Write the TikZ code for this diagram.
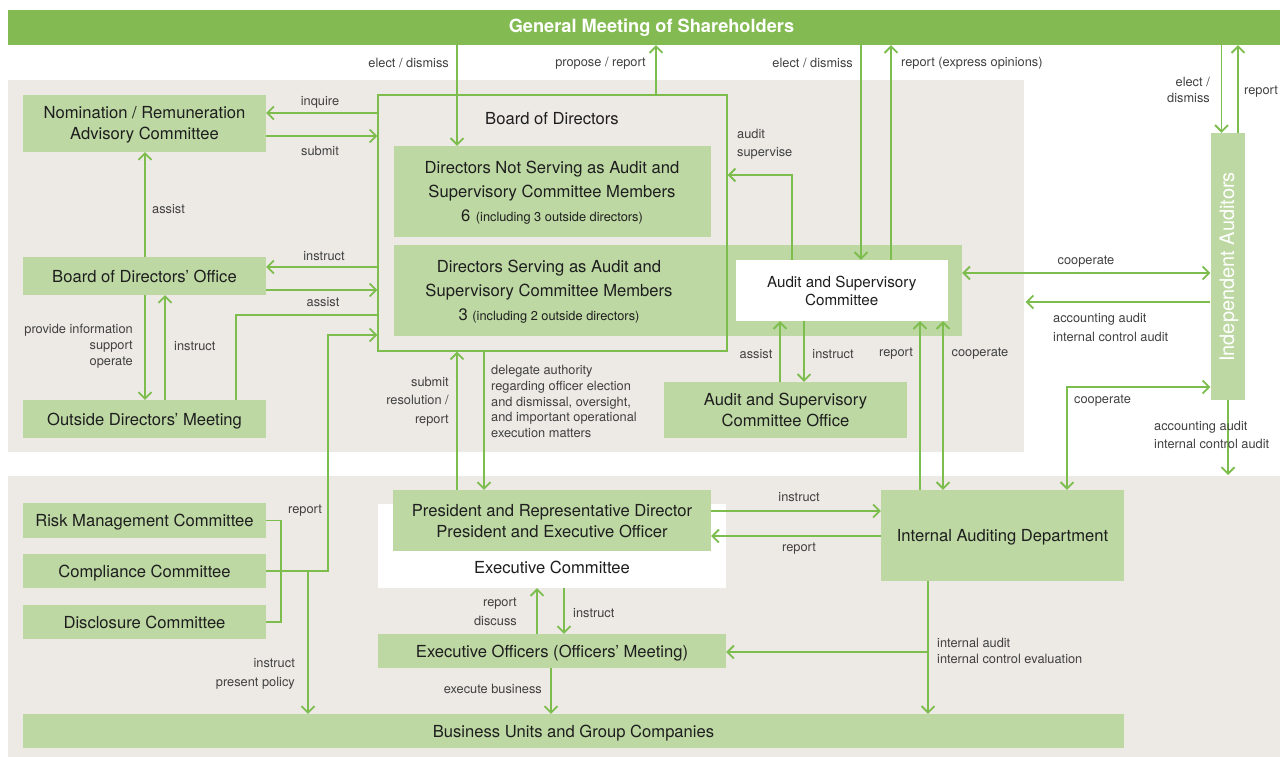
\documentclass[tikz,border=0pt]{standalone}
\usepackage{fontspec}
\setmainfont{TeX Gyre Heros}
\usetikzlibrary{arrows.meta}
\definecolor{gmgreen}{HTML}{83BB52}
\definecolor{boxgreen}{HTML}{BDD8A3}
\definecolor{linegreen}{HTML}{7CBD4E}
\definecolor{panelgray}{HTML}{EDEAE5}
\definecolor{txtc}{HTML}{1E1E1E}
\definecolor{lblc}{HTML}{404040}
\begin{document}
\begin{tikzpicture}[x=1pt,y=-1pt,
  box/.style={fill=boxgreen, inner sep=0pt, text=txtc, align=center, font=\fontsize{16.6}{21}\selectfont},
  wbox/.style={fill=white, inner sep=0pt, text=txtc, align=center, font=\fontsize{16.6}{21}\selectfont},
  th/.style={text height=#1, text depth=0pt},
  btxt/.style={inner sep=0pt, text=txtc, align=center, font=\fontsize{16.6}{24}\selectfont},
  lbl/.style={inner sep=0pt, text=lblc, font=\fontsize{12.8}{16}\selectfont},
  ln/.style={draw=linegreen, line width=1.8pt},
  arr/.style={ln, -{Straight Barb[length=6.5pt,width=13pt]}},
  arr2/.style={ln, {Straight Barb[length=6.5pt,width=13pt]}-{Straight Barb[length=6.5pt,width=13pt]}}
]
\useasboundingbox (0,0) rectangle (1280,757);
% panels
\fill[panelgray] (8,80) rectangle (1024,452);
\fill[panelgray] (8,476) rectangle (1280,757);
% general meeting
\node[fill=gmgreen, inner sep=0pt, minimum width=1272pt, minimum height=35pt] (gm) at (644,27.5) {};
\node[inner sep=0pt, text=white, font=\fontsize{18.2}{18}\selectfont\bfseries] (gmt) at (651.5,27.5) {General Meeting of Shareholders};
% board
\node[box, minimum width=317pt, minimum height=91pt] (dns) at (552.5,191.5) {};
\node[btxt] (dnst) at (552,193) {Directors Not Serving as Audit and\\Supervisory Committee Members\\6\,\,{\fontsize{12.8}{16}\selectfont(including 3 outside directors)}};
\node[box, minimum width=568pt, minimum height=91pt] (dsbox) at (678,290.5) {};
\node[btxt] (ds) at (549,292) {Directors Serving as Audit and\\Supervisory Committee Members\\3 {\fontsize{12.8}{16}\selectfont(including 2 outside directors)}};
\node[wbox, th=30pt, minimum width=211.5pt, minimum height=61pt, font=\fontsize{15.2}{18}\selectfont] (asc) at (841.75,290.5) {Audit and Supervisory\\Committee};
\node[draw=linegreen, line width=1.4pt, inner sep=0pt, minimum width=349pt, minimum height=256pt] (bod) at (552.5,223) {};
\node[btxt] (bodt) at (552,119) {Board of Directors};
\node[box, th=33pt, minimum width=243pt, minimum height=56pt] (ascoff) at (785.5,410) {Audit and Supervisory\\Committee Office};
% left boxes
\node[box, th=33pt, minimum width=243pt, minimum height=57pt] (nom) at (144.5,123.5) {Nomination / Remuneration\\Advisory Committee};
\node[box, th=12pt, minimum width=243pt, minimum height=38pt] (bodo) at (144.5,276) {Board of Directors' Office};
\node[box, th=12pt, minimum width=243pt, minimum height=38pt] (odm) at (144.5,419) {Outside Directors' Meeting};
% independent auditors
\node[fill=boxgreen, inner sep=0pt, minimum width=34.5pt, minimum height=267pt] (ia) at (1227.75,266.5) {};
\node[inner sep=0pt, rotate=90, text=white, font=\fontsize{20}{20}\selectfont] (iat) at (1229,267) {Independent Auditors};
% lower section
\node[box, th=12pt, minimum width=243pt, minimum height=35pt] (risk) at (144.5,520.5) {Risk Management Committee};
\node[box, th=12pt, minimum width=243pt, minimum height=34pt] (comp) at (144.5,571) {Compliance Committee};
\node[box, th=12pt, minimum width=243pt, minimum height=34pt] (disc) at (144.5,622) {Disclosure Committee};
\node[wbox, minimum width=348pt, minimum height=84pt] (excomm) at (552,546) {};
\node[btxt] (exct) at (552,567) {Executive Committee};
\node[box, th=33pt, minimum width=318pt, minimum height=61pt] (pres) at (552,520.5) {President and Representative Director\\President and Executive Officer};
\node[box, th=12pt, minimum width=348pt, minimum height=34pt] (eo) at (552,651) {Executive Officers (Officers' Meeting)};
\node[box, th=12pt, minimum width=243pt, minimum height=91pt] (iad) at (1002.5,535.5) {Internal Auditing Department};
\node[box, th=12pt, minimum width=1101pt, minimum height=34pt] (bu) at (573.5,731) {Business Units and Group Companies};
% helper coordinates
\coordinate (aaend) at (1025.5,302);
\coordinate (iaend) at (1228,475);
\coordinate (iabr) at (928,652);
\coordinate (rp) at (328,335);
% connectors: top
\draw[arr] (457,0 |- gm.south) -- (457,0 |- dns.north);
\draw[arr] (656,0 |- bod.north) -- (656,0 |- gm.south);
\draw[arr] (861,0 |- gm.south) -- (861,0 |- asc.north);
\draw[arr] (891,0 |- asc.north) -- (891,0 |- gm.south);
\draw[arr] (1221.5,0 |- gm.south) -- (1221.5,0 |- ia.north);
\draw[arr] (1238,0 |- ia.north) -- (1238,0 |- gm.south);
% left
\draw[arr] (bod.west |- 0,113) -- (nom.east |- 0,113);
\draw[arr] (nom.east |- 0,136) -- (bod.west |- 0,136);
\draw[arr] (145,0 |- bodo.north) -- (145,0 |- nom.south);
\draw[arr] (bod.west |- 0,267) -- (bodo.east |- 0,267);
\draw[arr] (bodo.east |- 0,290) -- (bod.west |- 0,290);
\draw[arr] (145,0 |- bodo.south) -- (145,0 |- odm.north);
\draw[arr] (165,0 |- odm.north) -- (165,0 |- bodo.south);
\draw[ln] (236,0 |- odm.north) |- (bod.west |- 0,315);
% audit committee
\draw[arr] (792,0 |- asc.north) |- (bod.east |- 0,175);
\draw[arr2] (dsbox.east |- 0,273) -- (ia.west |- 0,273);
\draw[arr] (ia.west |- aaend) -- (aaend);
\draw[arr] (780,0 |- ascoff.north) -- (780,0 |- asc.south);
\draw[arr] (804,0 |- asc.south) -- (804,0 |- ascoff.north);
\draw[arr] (920,0 |- iad.north) -- (920,0 |- asc.south);
\draw[arr2] (943,0 |- iad.north) -- (943,0 |- asc.south);
\draw[arr2] (1067,0 |- iad.north) |- (ia.west |- 0,387);
\draw[arr] (1228,0 |- ia.south) -- (iaend);
% board to executive
\draw[arr] (457,0 |- pres.north) -- (457,0 |- bod.south);
\draw[arr] (484,0 |- bod.south) -- (484,0 |- pres.north);
\draw[arr] (pres.east |- 0,511) -- (iad.west |- 0,511);
\draw[arr] (iad.west |- 0,536) -- (pres.east |- 0,536);
\draw[arr] (537,0 |- eo.north) -- (537,0 |- excomm.south);
\draw[arr] (564,0 |- excomm.south) -- (564,0 |- eo.north);
\draw[arr] (551,0 |- eo.south) -- (551,0 |- bu.north);
\draw[arr] (928,0 |- iad.south) -- (928,0 |- bu.north);
\draw[arr] (iabr) -- (eo.east |- iabr);
% committees
\draw[ln] (risk.east) -- ++(15,0) |- (disc.east);
\draw[arr] (comp.east) -| (rp) -- (bod.west |- rp);
\draw[arr] (308,0 |- comp.east) -- (308,0 |- bu.north);
% labels
\node[lbl, anchor=east] (l1) at (449,63) {elect / dismiss};
\node[lbl, anchor=east] (l2) at (646,63) {propose / report};
\node[lbl, anchor=east] (l3) at (853,63) {elect / dismiss};
\node[lbl, anchor=west] (l4) at (901,63) {report (express opinions)};
\node[lbl, anchor=east, align=right] (l5) at (1210,90) {elect /\\dismiss};
\node[lbl, anchor=west] (l6) at (1244,92) {report};
\node[lbl] (l7) at (320,102) {inquire};
\node[lbl] (l8) at (320,151) {submit};
\node[lbl, anchor=west] (l9) at (152,209) {assist};
\node[lbl] (l10) at (324,256) {instruct};
\node[lbl] (l11) at (323,302) {assist};
\node[lbl, anchor=east, align=right] (l12) at (133,346) {provide information\\support\\operate};
\node[lbl, anchor=west] (l13) at (174,346) {instruct};
\node[lbl, anchor=west, align=left, font=\fontsize{12.8}{18}\selectfont] (l14) at (737,144) {audit\\supervise};
\node[lbl] (l15) at (1086,262) {cooperate};
\node[lbl, anchor=west, align=left, font=\fontsize{12.8}{19}\selectfont] (l16) at (1053,327.5) {accounting audit\\internal control audit};
\node[lbl] (l17) at (756,354) {assist};
\node[lbl] (l18) at (833,354) {instruct};
\node[lbl] (l19) at (896,354) {report};
\node[lbl] (l20) at (980,354) {cooperate};
\node[lbl, anchor=west] (l21) at (1074,401) {cooperate};
\node[lbl, anchor=west, align=left, font=\fontsize{12.8}{18}\selectfont] (l22) at (1154,435) {accounting audit\\internal control audit};
\node[lbl, anchor=east, align=right, font=\fontsize{12.8}{18.5}\selectfont] (l23) at (449,401.5) {submit\\resolution /\\report};
\node[lbl, anchor=west, align=left, font=\fontsize{12.8}{15.75}\selectfont] (l24) at (491,401.5) {delegate authority\\regarding officer election\\and dismissal, oversight,\\and important operational\\execution matters};
\node[lbl] (l25) at (305,511) {report};
\node[lbl, anchor=east, align=right, font=\fontsize{12.8}{19}\selectfont] (l26) at (295,673.5) {instruct\\present policy};
\node[lbl] (l27) at (799,497) {instruct};
\node[lbl] (l28) at (799,549) {report};
\node[lbl, anchor=east, align=right, font=\fontsize{12.8}{19}\selectfont] (l29) at (517,611.5) {report\\discuss};
\node[lbl, anchor=west] (l30) at (573,613) {instruct};
\node[lbl, anchor=east] (l31) at (542,689) {execute business};
\node[lbl, anchor=west, align=left] (l32) at (937,651) {internal audit\\internal control evaluation};
\end{tikzpicture}
\end{document}
